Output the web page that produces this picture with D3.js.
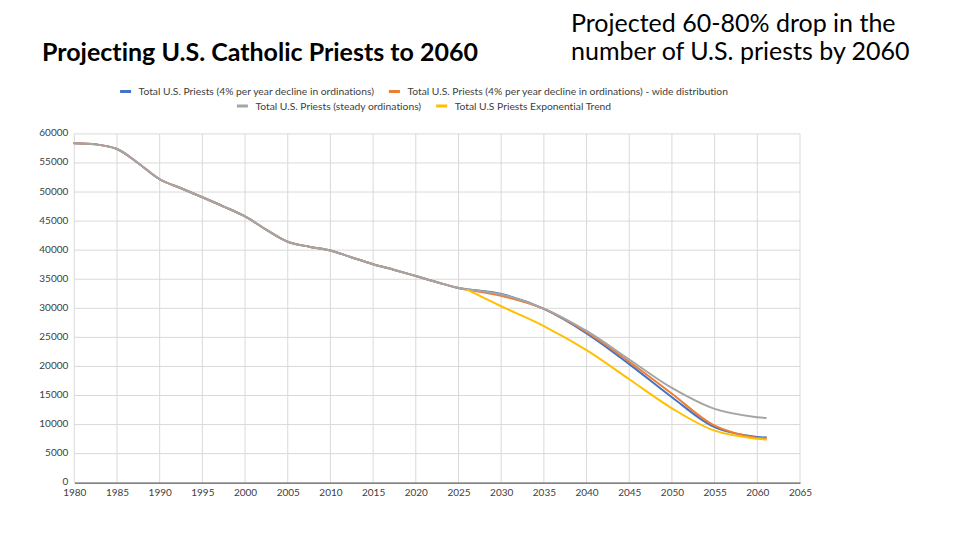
<!DOCTYPE html>
<html>
<head>
<meta charset="utf-8">
<script src="https://cdn.jsdelivr.net/npm/d3@7"></script>
<style>
  body { margin: 0; background: #fff; }
  svg { font-family: Lato, "Open Sans", sans-serif; font-variant-ligatures: none; }
</style>
</head>
<body>
<script>
// data
const histYears = [1980, 1982.5, 1985, 1987.5, 1990, 1992.5, 1995, 1997.5, 2000, 2002.5, 2005, 2007.5, 2010, 2012.5, 2015, 2017.5, 2020, 2022.5, 2025];
const histValues = [58400, 58200, 57400, 54950, 52200, 50650, 49100, 47500, 45800, 43500, 41450, 40600, 39950, 38750, 37580, 36600, 35550, 34480, 33500];

const projYears = [2030, 2035, 2040, 2045, 2050, 2055, 2060, 2061];
const blueValues = [32450, 29900, 25700, 20400, 14700, 9550, 7850, 7800];
const orangeValues = [32150, 29900, 25900, 20800, 15300, 9800, 7700, 7650];
const grayValues = [32400, 29950, 26100, 21200, 16300, 12700, 11250, 11150];

const expYears = [2026, 2030, 2035, 2040, 2045, 2050, 2055, 2060, 2061];
const expValues = [33200, 30350, 26950, 22800, 17800, 12800, 8950, 7550, 7450];

const seriesNames = [
  "Total U.S. Priests (4% per year decline in ordinations)",
  "Total U.S. Priests (4% per year decline in ordinations) - wide distribution",
  "Total U.S. Priests (steady ordinations)",
  "Total U.S Priests Exponential Trend"
];
const seriesColors = ["#4472C4", "#ED7D31", "#A5A5A5", "#FFC000"];

const xTicks = d3.range(1980, 2066, 5);
const yTicks = d3.range(0, 60001, 5000);

function zip(xs, ys) { return xs.map((x, i) => ({ x: x, y: ys[i] })); }

const hist = zip(histYears, histValues);
const series = [
  hist.concat(zip(projYears, blueValues)),
  hist.concat(zip(projYears, orangeValues)),
  hist.concat(zip(projYears, grayValues)),
  zip(expYears, expValues)
];

const width = 960, height = 540;
const plotL = 74.3, plotR = 800, plotT = 133.9, plotB = 482.7;

const svg = d3.select("body").append("svg")
  .attr("width", width)
  .attr("height", height);

const x = d3.scaleLinear().domain([1980, 2065]).range([plotL, plotR]);
const y = d3.scaleLinear().domain([0, 60000]).range([plotB, plotT]);

// titles
svg.append("text")
  .attr("x", 42).attr("y", 61)
  .attr("font-size", 25).attr("font-weight", "bold")
  .attr("fill", "#000")
  .text("Projecting U.S. Catholic Priests to 2060");

svg.append("text")
  .attr("x", 571).attr("y", 32)
  .attr("font-size", 25).attr("fill", "#000")
  .text("Projected 60-80% drop in the");
svg.append("text")
  .attr("x", 571).attr("y", 60)
  .attr("font-size", 25).attr("fill", "#000")
  .text("number of U.S. priests by 2060");

// grid
const grid = svg.append("g").attr("stroke", "#d9d9d9").attr("stroke-width", 1);
grid.selectAll(".v").data(xTicks).enter().append("line")
  .attr("x1", d => x(d)).attr("x2", d => x(d))
  .attr("y1", plotT).attr("y2", plotB);
grid.selectAll(".h").data(yTicks.filter(d => d > 0)).enter().append("line")
  .attr("x1", plotL).attr("x2", plotR)
  .attr("y1", d => y(d)).attr("y2", d => y(d));

// axes
const xAxis = svg.append("g")
  .attr("transform", "translate(0," + plotB + ")")
  .call(d3.axisBottom(x).tickValues(xTicks).tickFormat(d3.format("d")).tickSize(0).tickPadding(6));
xAxis.select(".domain").attr("stroke", "#595959").attr("stroke-width", 1.2);

const yAxis = svg.append("g")
  .attr("transform", "translate(" + plotL + ",0)")
  .call(d3.axisLeft(y).tickValues(yTicks).tickFormat(d3.format("d")).tickSize(0).tickPadding(6));
yAxis.select(".domain").remove();
yAxis.selectAll(".tick text").attr("dy", "0.2em");

svg.selectAll(".tick text")
  .attr("font-family", "Lato, 'Open Sans', sans-serif")
  .attr("font-size", 10)
  .attr("fill", "#404040");

// lines
const line = d3.line()
  .x(d => x(d.x))
  .y(d => y(d.y))
  .curve(d3.curveCatmullRom.alpha(0.5));

svg.append("g").selectAll("path").data(series).enter().append("path")
  .attr("d", line)
  .attr("fill", "none")
  .attr("stroke", (d, i) => seriesColors[i])
  .attr("stroke-width", 2)
  .attr("stroke-linecap", "round");

// legend, two centred rows
const legendRows = [[0, 1], [2, 3]];
const legendY = [95, 109.5];
const legendCenter = 424;
legendRows.forEach(function(row, r) {
  const g = svg.append("g");
  let cx = 0;
  row.forEach(function(i) {
    g.append("line")
      .attr("x1", cx).attr("x2", cx + 11)
      .attr("y1", legendY[r] - 3.5).attr("y2", legendY[r] - 3.5)
      .attr("stroke", seriesColors[i]).attr("stroke-width", 3);
    const t = g.append("text")
      .attr("x", cx + 18.5).attr("y", legendY[r])
      .attr("font-size", 10.3).attr("fill", "#404040")
      .text(seriesNames[i]);
    cx += 18.5 + t.node().getComputedTextLength() + 15;
  });
  cx -= 15;
  g.attr("transform", "translate(" + (legendCenter - cx / 2) + ",0)");
});
</script>
</body>
</html>
